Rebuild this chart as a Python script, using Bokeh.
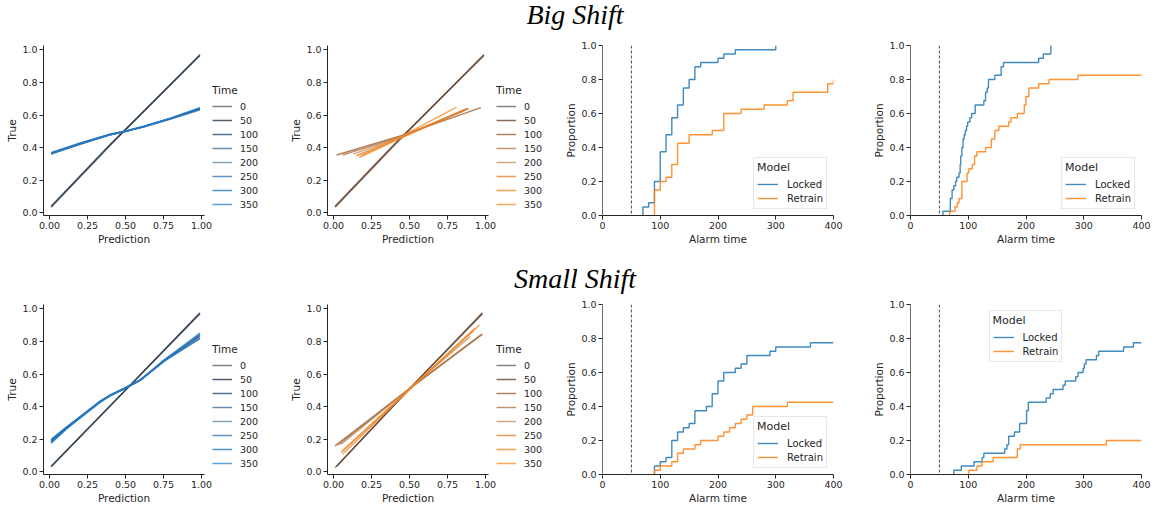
from bokeh.plotting import figure
from bokeh.layouts import column, row
from bokeh.models import (Legend, LegendItem, Span, FixedTicker,
                          NumeralTickFormatter, Range1d)
from bokeh.embed import file_html
from bokeh.resources import INLINE
from bokeh.core.properties import value

# ---------------- data ----------------
TIMES = [0, 50, 100, 150, 200, 250, 300, 350]
CALIB_X_TICKS = [0, 0.25, 0.5, 0.75, 1.0]
Y_TICKS = [0, 0.2, 0.4, 0.6, 0.8, 1.0]
ALARM_X_TICKS = [0, 100, 200, 300, 400]
ALARM_START = 50

# Big shift, locked model: calibration curves per time
BIG_LOCKED_X = [
    [0.01, 0.4, 0.99],
    [0.01, 0.4, 0.99],
    [0.01, 0.2, 0.4, 0.5, 0.62, 0.8, 0.99],
    [0.01, 0.2, 0.4, 0.5, 0.62, 0.8, 0.99],
    [0.01, 0.2, 0.4, 0.5, 0.62, 0.8, 0.99],
    [0.01, 0.2, 0.4, 0.5, 0.62, 0.8, 0.99],
    [0.01, 0.2, 0.4, 0.5, 0.62, 0.8, 0.99],
    [0.01, 0.2, 0.4, 0.5, 0.62, 0.8, 0.99],
]
BIG_LOCKED_Y = [
    [0.035, 0.415, 0.97],
    [0.04, 0.42, 0.965],
    [0.365, 0.425, 0.482, 0.50, 0.528, 0.578, 0.635],
    [0.36, 0.42, 0.478, 0.50, 0.53, 0.58, 0.64],
    [0.37, 0.428, 0.484, 0.502, 0.527, 0.575, 0.63],
    [0.362, 0.421, 0.48, 0.499, 0.529, 0.581, 0.643],
    [0.368, 0.426, 0.481, 0.501, 0.53, 0.579, 0.638],
    [0.364, 0.423, 0.479, 0.50, 0.531, 0.582, 0.645],
]
# Big shift, retrained model
BIG_RETRAIN_X = [
    [0.01, 0.4, 0.99],
    [0.01, 0.4, 0.99],
    [0.02, 0.45, 0.97],
    [0.06, 0.45, 0.89],
    [0.13, 0.45, 0.86],
    [0.15, 0.45, 0.88],
    [0.17, 0.45, 0.87],
    [0.18, 0.45, 0.81],
]
BIG_RETRAIN_Y = [
    [0.035, 0.415, 0.97],
    [0.04, 0.42, 0.965],
    [0.355, 0.475, 0.645],
    [0.355, 0.47, 0.64],
    [0.36, 0.468, 0.625],
    [0.35, 0.465, 0.64],
    [0.34, 0.462, 0.635],
    [0.35, 0.47, 0.648],
]
# Small shift, locked model
SMALL_LOCKED_X = [
    [0.01, 0.5, 0.99],
    [0.01, 0.5, 0.99],
    [0.01, 0.11, 0.22, 0.33, 0.4, 0.49, 0.6, 0.75, 0.99],
    [0.01, 0.11, 0.22, 0.33, 0.4, 0.49, 0.6, 0.75, 0.99],
    [0.01, 0.11, 0.22, 0.33, 0.4, 0.49, 0.6, 0.75, 0.99],
    [0.01, 0.11, 0.22, 0.33, 0.4, 0.49, 0.6, 0.75, 0.99],
    [0.01, 0.11, 0.22, 0.33, 0.4, 0.49, 0.6, 0.75, 0.99],
    [0.01, 0.11, 0.22, 0.33, 0.4, 0.49, 0.6, 0.75, 0.99],
]
SMALL_LOCKED_Y = [
    [0.03, 0.50, 0.975],
    [0.035, 0.502, 0.97],
    [0.19, 0.27, 0.35, 0.43, 0.47, 0.51, 0.565, 0.68, 0.83],
    [0.18, 0.265, 0.345, 0.425, 0.468, 0.508, 0.562, 0.675, 0.845],
    [0.2, 0.275, 0.352, 0.432, 0.472, 0.512, 0.567, 0.678, 0.815],
    [0.185, 0.268, 0.348, 0.428, 0.469, 0.509, 0.564, 0.682, 0.84],
    [0.195, 0.272, 0.351, 0.431, 0.471, 0.511, 0.566, 0.676, 0.82],
    [0.175, 0.262, 0.344, 0.426, 0.467, 0.507, 0.563, 0.684, 0.85],
]
# Small shift, retrained model
SMALL_RETRAIN_X = [
    [0.01, 0.5, 0.98],
    [0.02, 0.5, 0.98],
    [0.01, 0.5, 0.98],
    [0.03, 0.5, 0.97],
    [0.05, 0.5, 0.90],
    [0.05, 0.5, 0.92],
    [0.06, 0.5, 0.93],
    [0.06, 0.5, 0.96],
]
SMALL_RETRAIN_Y = [
    [0.025, 0.51, 0.975],
    [0.035, 0.51, 0.97],
    [0.16, 0.51, 0.845],
    [0.165, 0.51, 0.84],
    [0.17, 0.51, 0.83],
    [0.12, 0.505, 0.865],
    [0.11, 0.505, 0.88],
    [0.13, 0.51, 0.90],
]

# Alarm-time ECDFs (step times and cumulative proportions)
BIG_LOCKED_T = [70, 80, 90, 100, 110, 120, 130, 140, 150, 160, 170, 200, 210, 230, 300]
BIG_LOCKED_P = [0.05, 0.075, 0.2, 0.375, 0.475, 0.575, 0.65, 0.75, 0.8, 0.875, 0.9, 0.925, 0.95, 0.975, 1.0]
BIG_RETRAIN_T = [90, 100, 110, 120, 130, 150, 190, 210, 240, 280, 320, 330, 390, 400]
BIG_RETRAIN_P = [0.15, 0.2, 0.225, 0.3, 0.425, 0.475, 0.5, 0.6, 0.625, 0.65, 0.675, 0.725, 0.775, 0.8]

BIG_LOCKED_FINE_T = [56, 69, 72, 75, 78, 80, 84, 86, 87, 89, 91, 93, 95, 97, 99, 103, 106, 112,
                     127, 130, 133, 135, 146, 157, 161, 222, 230, 243]
BIG_LOCKED_FINE_P = [0.025, 0.1, 0.15, 0.175, 0.2, 0.225, 0.25, 0.3, 0.35, 0.4, 0.45, 0.475, 0.5,
                     0.525, 0.55, 0.575, 0.6, 0.65, 0.675, 0.725, 0.75, 0.8, 0.825, 0.875, 0.9,
                     0.925, 0.95, 1.0]
BIG_RETRAIN_FINE_T = [68, 77, 81, 84, 89, 98, 101, 107, 111, 115, 130, 140, 146, 153, 170, 174,
                      185, 197, 200, 205, 222, 240, 290, 400]
BIG_RETRAIN_FINE_P = [0.025, 0.05, 0.075, 0.1, 0.2, 0.25, 0.275, 0.3, 0.35, 0.375, 0.4, 0.45, 0.5,
                      0.525, 0.55, 0.575, 0.6, 0.65, 0.7, 0.75, 0.775, 0.8, 0.825, 0.825]

SMALL_LOCKED_T = [90, 100, 110, 120, 130, 140, 150, 160, 180, 190, 200, 210, 230, 240, 250, 290,
                  300, 360, 400]
SMALL_LOCKED_P = [0.05, 0.075, 0.1, 0.2, 0.25, 0.275, 0.3, 0.375, 0.4, 0.475, 0.55, 0.6, 0.625,
                  0.65, 0.7, 0.725, 0.75, 0.775, 0.775]
SMALL_RETRAIN_T = [90, 100, 120, 130, 140, 160, 170, 200, 210, 220, 230, 240, 250, 260, 320, 400]
SMALL_RETRAIN_P = [0.025, 0.05, 0.075, 0.125, 0.15, 0.175, 0.2, 0.225, 0.25, 0.275, 0.3, 0.325,
                   0.35, 0.4, 0.425, 0.425]

SMALL_LOCKED_FINE_T = [75, 88, 110, 124, 127, 163, 167, 170, 180, 189, 201, 204, 235, 242, 247,
                       264, 268, 286, 290, 299, 301, 304, 322, 326, 369, 386, 400]
SMALL_LOCKED_FINE_P = [0.025, 0.05, 0.075, 0.1, 0.125, 0.15, 0.175, 0.225, 0.25, 0.3, 0.375,
                       0.425, 0.45, 0.475, 0.5, 0.525, 0.55, 0.575, 0.6, 0.625, 0.65, 0.675, 0.7,
                       0.725, 0.75, 0.775, 0.775]
SMALL_RETRAIN_FINE_T = [101, 115, 124, 143, 185, 190, 339, 400]
SMALL_RETRAIN_FINE_P = [0.025, 0.05, 0.075, 0.1, 0.15, 0.175, 0.2, 0.2]

# ---------------- style ----------------
FONT = "DejaVu Sans"
INK = "#262626"
LOCKED_COLORS = ["#555555", "#142940", "#154069", "#38648f", "#6087a9", "#276fb0", "#146dbb", "#2380d0"]
RETRAIN_COLORS = ["#635855", "#63381c", "#95552b", "#b07040", "#bb8b5d", "#e07828", "#f0801c", "#f88b20"]
BLUE = "#1f77b4"
ORANGE = "#ff7f0e"

ROW_TOP = 8
FRAME_H = 170
ROW_BOTTOM = 36
ROW_H = ROW_TOP + FRAME_H + ROW_BOTTOM


def base_fig(width, left, right, xr, yr):
    p = figure(width=width, height=ROW_H, x_range=Range1d(*xr), y_range=Range1d(*yr),
               output_backend="svg", toolbar_location=None, title=None,
               min_border_left=left, min_border_right=right,
               min_border_top=ROW_TOP, min_border_bottom=ROW_BOTTOM)
    p.outline_line_color = None
    p.xgrid.visible = False
    p.ygrid.visible = False
    for ax in (p.xaxis[0], p.yaxis[0]):
        ax.axis_line_color = INK
        ax.major_tick_line_color = INK
        ax.major_tick_out = 4
        ax.major_tick_in = 0
        ax.minor_tick_line_color = None
        ax.major_label_text_font = FONT
        ax.major_label_text_font_size = "9.5px"
        ax.major_label_text_color = INK
        ax.axis_label_text_font = FONT
        ax.axis_label_text_font_size = "10.5px"
        ax.axis_label_text_font_style = "normal"
        ax.axis_label_text_color = INK
        ax.major_label_standoff = 2
        ax.axis_label_standoff = 1
    p.yaxis.ticker = FixedTicker(ticks=Y_TICKS)
    p.yaxis.formatter = NumeralTickFormatter(format="0.0")
    return p


def style_legend(lg, title, title_size, label_size, glyph_w, row_h, standoff):
    lg.title = title
    lg.title_text_font = FONT
    lg.title_text_font_size = title_size
    lg.title_text_font_style = "normal"
    lg.title_text_color = INK
    lg.title_standoff = 3
    lg.label_text_font = FONT
    lg.label_text_font_size = label_size
    lg.label_text_color = INK
    lg.glyph_width = glyph_w
    lg.glyph_height = row_h
    lg.label_height = row_h
    lg.label_standoff = standoff
    lg.spacing = 0


def calib_panel(width, legend_width, left, xs, ys, colors):
    right = width - left - 161
    p = base_fig(width, left, right, (-0.04, 1.02), (-0.016, 1.026))
    p.xaxis.axis_label = "Prediction"
    p.yaxis.axis_label = "True"
    p.xaxis.ticker = FixedTicker(ticks=CALIB_X_TICKS)
    p.xaxis.formatter = NumeralTickFormatter(format="0.00")
    for x, y, c in zip(xs, ys, colors):
        p.line(x, y, line_color=c, line_width=1.5, line_alpha=0.75)

    # legend ("Time") lives in its own strip to the right of the axes; its
    # key renderers carry the same curves but sit outside that strip's view
    lf = figure(width=legend_width, height=ROW_H, x_range=Range1d(10, 11), y_range=Range1d(10, 11),
                output_backend="svg", toolbar_location=None, title=None, min_border=0,
                x_axis_location=None, y_axis_location=None)
    lf.grid.visible = False
    lf.outline_line_color = None
    items = []
    for t, x, y, c in zip(TIMES, xs, ys, colors):
        r = lf.line(x, y, line_color=c, line_width=1.5, line_alpha=0.75)
        items.append(LegendItem(label=str(t), renderers=[r]))
    lg = Legend(items=items, location=(0, 4))
    style_legend(lg, "Time", "10.5px", "9.5px", 20, 14, 8)
    lg.padding = 2
    lg.margin = 0
    lg.border_line_color = None
    lg.background_fill_alpha = 0
    lf.add_layout(lg)
    return row(p, lf)


def ecdf_panel(width, left, right, lt, lp, rt, rp, legend_loc):
    p = base_fig(width, left, right, (0, 400), (0, 1.0))
    p.xaxis.axis_label = "Alarm time"
    p.yaxis.axis_label = "Proportion"
    p.xaxis.ticker = FixedTicker(ticks=ALARM_X_TICKS)
    p.xaxis.formatter = NumeralTickFormatter(format="0")
    p.yaxis.axis_line_color = "#6f6f6f"
    p.add_layout(Span(location=ALARM_START, dimension="height", line_color="#4a4a4a",
                      line_dash="3 2", line_width=1))
    rl = p.step([lt[0]] + lt, [0.0] + lp, mode="after", line_color=BLUE,
                line_width=1.4, line_alpha=0.85)
    rr = p.step([rt[0]] + rt, [0.0] + rp, mode="after", line_color=ORANGE,
                line_width=1.4, line_alpha=0.85)
    lg = Legend(items=[LegendItem(label="Locked", renderers=[rl]),
                       LegendItem(label="Retrain", renderers=[rr])],
                location=legend_loc)
    style_legend(lg, "Model", "11px", "10px", 21, 14, 9)
    lg.padding = 3
    lg.margin = 6
    lg.border_line_color = "#d0d0d0"
    lg.border_line_width = 1
    lg.background_fill_color = "white"
    lg.background_fill_alpha = 0.85
    p.add_layout(lg)
    return p


def title_fig(text, height, center_from_top):
    t = figure(width=1156, height=height, x_range=Range1d(0, 1), y_range=Range1d(0, height),
               output_backend="svg", toolbar_location=None, min_border=0, title=None,
               x_axis_location=None, y_axis_location=None)
    t.grid.visible = False
    t.outline_line_color = None
    t.text(x=[0.497], y=[height - center_from_top], text=[text], text_align="center",
           text_baseline="middle", text_font=value("Liberation Serif"),
           text_font_style="italic", text_font_size="28px", text_color="#000000")
    return t


top = row(
    calib_panel(212, 73, 43, BIG_LOCKED_X, BIG_LOCKED_Y, LOCKED_COLORS),
    calib_panel(211, 62, 42, BIG_RETRAIN_X, BIG_RETRAIN_Y, RETRAIN_COLORS),
    ecdf_panel(308, 44, 33, BIG_LOCKED_T, BIG_LOCKED_P, BIG_RETRAIN_T, BIG_RETRAIN_P, "bottom_right"),
    ecdf_panel(290, 44, 15, BIG_LOCKED_FINE_T, BIG_LOCKED_FINE_P,
               BIG_RETRAIN_FINE_T, BIG_RETRAIN_FINE_P, "bottom_right"),
)
bottom = row(
    calib_panel(212, 73, 43, SMALL_LOCKED_X, SMALL_LOCKED_Y, LOCKED_COLORS),
    calib_panel(211, 62, 42, SMALL_RETRAIN_X, SMALL_RETRAIN_Y, RETRAIN_COLORS),
    ecdf_panel(308, 44, 33, SMALL_LOCKED_T, SMALL_LOCKED_P, SMALL_RETRAIN_T, SMALL_RETRAIN_P,
               "bottom_right"),
    ecdf_panel(290, 44, 15, SMALL_LOCKED_FINE_T, SMALL_LOCKED_FINE_P,
               SMALL_RETRAIN_FINE_T, SMALL_RETRAIN_FINE_P, "top_center"),
)

p = column(title_fig("Big Shift", 37, 14), top, title_fig("Small Shift", 45, 27), bottom)

open("out.html", "w").write(file_html(p, INLINE))
